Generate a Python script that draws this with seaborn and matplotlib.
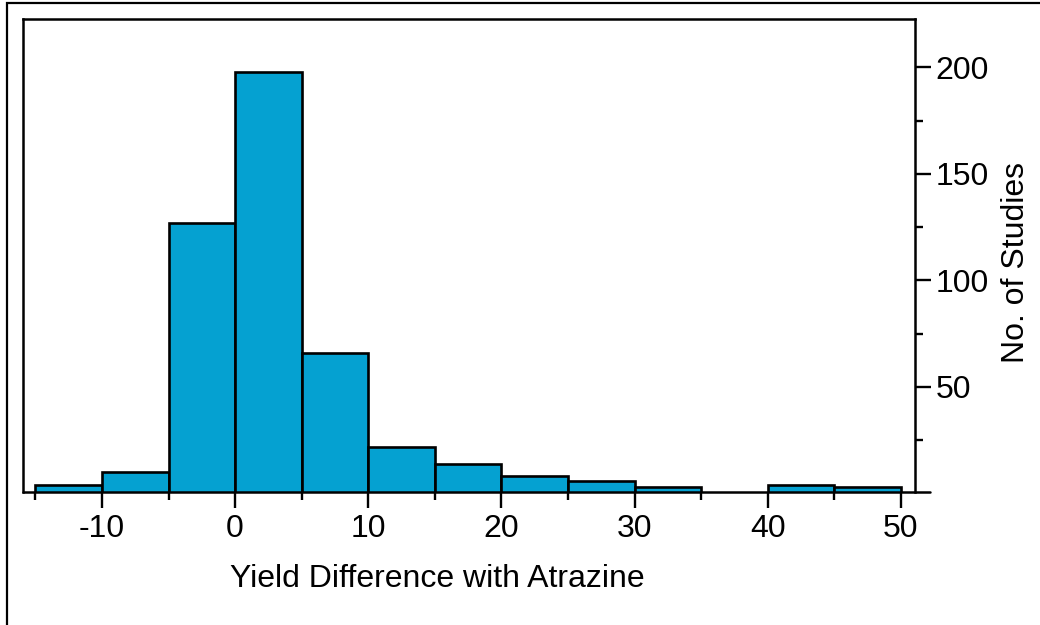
import numpy as np
import matplotlib
matplotlib.use('Agg')
import matplotlib.pyplot as plt
from matplotlib.lines import Line2D
from matplotlib.patches import Rectangle
from matplotlib.ticker import FixedLocator
import seaborn as sns

# histogram bins (5-unit wide) and study counts per bin
bin_edges = [-15, -10, -5, 0, 5, 10, 15, 20, 25, 30, 35, 40, 45, 50]
counts = [4, 10, 127, 198, 66, 22, 14, 8, 6, 3, 0, 4, 3]
bin_centers = [(a + b) / 2 for a, b in zip(bin_edges[:-1], bin_edges[1:])]

x_major = [-10, 0, 10, 20, 30, 40, 50]
x_minor = [-15, -5, 5, 15, 25, 35, 45]
y_major = [50, 100, 150, 200]
y_minor = [25, 75, 125, 175]

sns.set_style('ticks')
plt.rcParams['font.family'] = ['Liberation Sans', 'DejaVu Sans']

fig = plt.figure(figsize=(10.4, 6.25), dpi=100)
ax = fig.add_axes([23 / 1040, 1 - 492 / 625, (915 - 23) / 1040, (492 - 19) / 625])

sns.histplot(x=bin_centers, weights=counts, bins=bin_edges, color='#05A1D1',
             edgecolor='black', linewidth=1.9, alpha=1, ax=ax)

ax.set_xlim(-15.93, 51.06)
ax.set_ylim(0.7, 222.7)

# spines
for s in ax.spines.values():
    s.set_linewidth(1.8)
    s.set_color('black')
ax.spines['bottom'].set_visible(False)
# x-axis line runs a little past the right spine
ax.add_line(Line2D([0, (930 - 23) / (915 - 23)], [0, 0],
                   transform=ax.transAxes, color='black', lw=1.8,
                   clip_on=False, zorder=3))

ax.xaxis.set_major_locator(FixedLocator(x_major))
ax.xaxis.set_minor_locator(FixedLocator(x_minor))
ax.yaxis.set_major_locator(FixedLocator(y_major))
ax.yaxis.set_minor_locator(FixedLocator(y_minor))

ax.yaxis.tick_right()
ax.yaxis.set_label_position('right')
ax.tick_params(axis='both', which='major', direction='out', length=11.5,
               width=1.7, labelsize=23, colors='black')
ax.tick_params(axis='both', which='minor', direction='out', length=5.8,
               width=1.7, colors='black')
ax.tick_params(axis='x', which='major', pad=4.5)
ax.tick_params(axis='y', which='major', pad=3.5)
ax.tick_params(axis='y', which='both', left=False, right=True)

ax.set_xticklabels([str(v) for v in x_major])
ax.set_xlabel('Yield Difference with Atrazine', fontsize=23, color='black')
ax.set_ylabel('No. of Studies', fontsize=23, color='black')
ax.xaxis.set_label_coords(0.464, -0.153, transform=ax.transAxes)
ax.yaxis.set_label_coords(1.096, 0.486, transform=ax.transAxes)

# outer frame around the figure
fig.patches.append(Rectangle((7 / 1040, -0.05), 1.1, 1 - 3.3 / 625 + 0.05,
                             transform=fig.transFigure, fill=False,
                             edgecolor='black', lw=1.6))

fig.savefig('out.png', dpi=100)
